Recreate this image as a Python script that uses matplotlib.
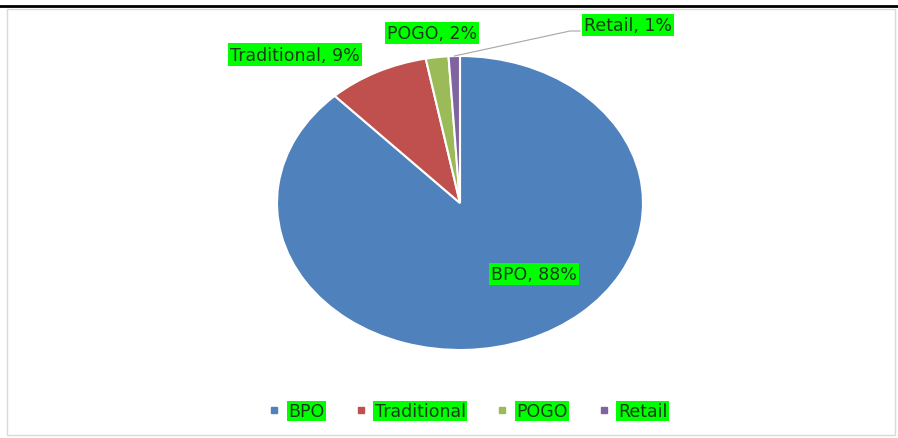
import matplotlib.pyplot as plt
from matplotlib.lines import Line2D
from matplotlib.patches import Rectangle

# data
segmen = ['BPO', 'Traditional', 'POGO', 'Retail']
persen = [88, 9, 2, 1]
warna = ['#4F81BD', '#C0504D', '#9BBB59', '#8064A2']

W, H = 898, 439
fig = plt.figure(figsize=(W / 100, H / 100), dpi=100)
fig.patch.set_facecolor('white')

# garis hitam di atas dan bingkai abu-abu chart
fig.add_artist(Line2D([0, 1], [1 - 7 / H, 1 - 7 / H], color='black', lw=2, transform=fig.transFigure))
fig.add_artist(Rectangle((7 / W, 3 / H), 888 / W, 426 / H, transform=fig.transFigure,
                         fill=False, edgecolor='#d9d9d9', lw=1))

# pie elips: x 277..643, y 57..351 (piksel dari atas)
ax = fig.add_axes([277 / W, 1 - 351 / H, 366 / W, 294 / H])
wedges, _ = ax.pie(persen, colors=warna, startangle=90, counterclock=False,
                   wedgeprops=dict(edgecolor='white', linewidth=1.5))
ax.set_aspect('auto')
ax.set_xlim(-1, 1)
ax.set_ylim(-1, 1)
ax.axis('off')

label_pos = [(0.404, -0.483), (-0.90, 1.01), (-0.153, 1.157), (0.918, 1.21)]
kotak = dict(facecolor='#00FF00', edgecolor='none', pad=1.5)
for nama, p, (lx, ly) in zip(segmen, persen, label_pos):
    ax.text(lx, ly, f'{nama}, {p}%', ha='center', va='center', fontsize=12.5,
            color='#1a3a1a', bbox=kotak, clip_on=False)

# garis penunjuk Retail
ax.plot([-0.031, 0.601, 0.656], [1.0, 1.17, 1.17], color='#a6a6a6', lw=0.8, clip_on=False)

# legend
handles = [Line2D([], [], marker='s', linestyle='none', markersize=5, color=c) for c in warna]
leg = fig.legend(handles, segmen, loc='center', bbox_to_anchor=(468 / W, 1 - 412 / H),
                 ncol=4, frameon=False, fontsize=12.5, handlelength=0.6, handletextpad=0.5,
                 columnspacing=1.8)
for t in leg.get_texts():
    t.set_color('#1a3a1a')
    t.set_bbox(dict(facecolor='#00FF00', edgecolor='none', pad=1))

fig.savefig('out.png', dpi=100)
